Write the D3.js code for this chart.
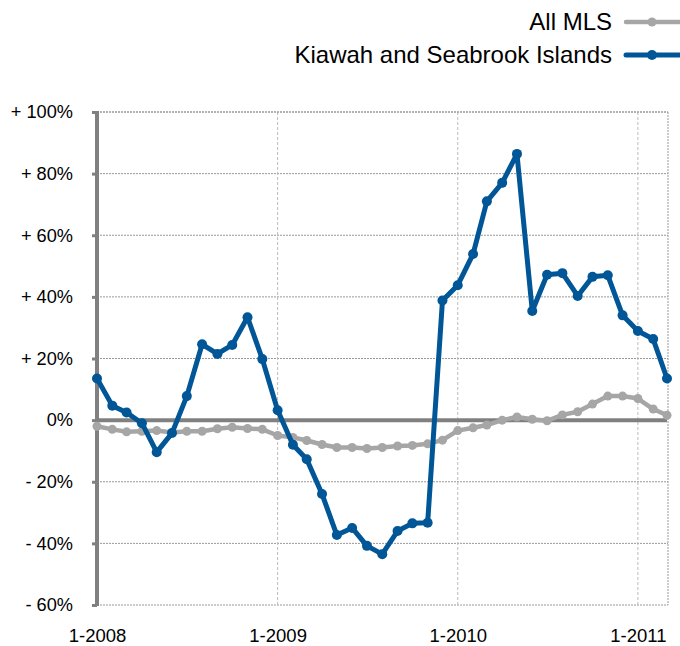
<!DOCTYPE html>
<html>
<head>
<meta charset="utf-8">
<script src="https://cdn.jsdelivr.net/npm/d3@7/dist/d3.min.js"></script>
<style>
  body { margin: 0; background: #fff; }
  svg { display: block; font-family: "Liberation Sans", Arial, Helvetica, sans-serif; }
</style>
</head>
<body>
<svg id="chart" width="680" height="646"></svg>
<script>
// Monthly data, Jan 2008 .. Mar 2011 (percent change)
const months = d3.range(39).map(i => new Date(2008, i, 1));
const allMLS = [-2, -3, -3.8, -3.6, -3.4, -4, -3.6, -3.6, -2.8, -2.3, -2.7, -3, -5, -5.6, -6.6, -7.9, -8.9,
  -8.9, -9.2, -8.9, -8.4, -8.2, -7.7, -6.5, -3.4, -2.5, -1.6, 0, 1, 0.3, -0.2, 1.7, 2.7, 5.2, 7.8, 7.8, 7, 3.6, 1.6];
const kiawah = [13.5, 4.7, 2.5, -1, -10.4, -4.2, 7.8, 24.6, 21.5, 24.4, 33.4, 19.8, 3.2, -8, -12.7, -24, -37.3,
  -35, -40.8, -43.5, -36, -33.5, -33.3, 38.8, 43.8, 53.9, 71, 77, 86.4, 35.4, 47.2, 47.7, 40.3, 46.5, 47, 34, 28.9, 26.3, 13.5];
const yTicks = [100, 80, 60, 40, 20, 0, -20, -40, -60];
const yTickLabels = ["+ 100%", "+ 80%", "+ 60%", "+ 40%", "+ 20%", "0%", "- 20%", "- 40%", "- 60%"];
const xTicks = [new Date(2008, 0, 1), new Date(2009, 0, 1), new Date(2010, 0, 1), new Date(2011, 0, 1)];
const xTickLabels = ["1-2008", "1-2009", "1-2010", "1-2011"];
const seriesNames = ["All MLS", "Kiawah and Seabrook Islands"];
const seriesColors = ["#a6a6a6", "#005696"];

const svg = d3.select("#chart");
const pLeft = 97, pRight = 667, pTop = 112, pBottom = 605;

const x = d3.scaleTime().domain([months[0], months[38]]).range([pLeft, pRight]);
const y = d3.scaleLinear().domain([-60, 100]).range([pBottom, pTop]);

// grid
const grid = svg.append("g");
grid.selectAll("line.h").data(yTicks.filter(d => d !== 0 && d !== 100)).join("line")
  .attr("x1", pLeft).attr("x2", pRight + 1).attr("y1", d => y(d)).attr("y2", d => y(d))
  .attr("stroke", "#999").attr("stroke-width", 1).attr("stroke-dasharray", "2,1");
grid.selectAll("line.v").data(xTicks.slice(1)).join("line")
  .attr("x1", d => x(d)).attr("x2", d => x(d)).attr("y1", pTop).attr("y2", pBottom)
  .attr("stroke", "#bbb").attr("stroke-width", 1).attr("stroke-dasharray", "3,2");
grid.append("line").attr("x1", pRight + 1).attr("x2", pRight + 1).attr("y1", pTop).attr("y2", pBottom)
  .attr("stroke", "#999").attr("stroke-width", 1).attr("stroke-dasharray", "2,1");
grid.append("line").attr("x1", pLeft).attr("x2", pRight + 1).attr("y1", y(100)).attr("y2", y(100))
  .attr("stroke", "#999").attr("stroke-width", 1.5).attr("stroke-dasharray", "2,1");

// y axis
const yAxis = d3.axisLeft(y).tickValues(yTicks).tickSize(5)
  .tickFormat((d, i) => yTickLabels[i]);
const ya = svg.append("g").attr("transform", `translate(${pLeft},0)`).call(yAxis);
ya.select(".domain").attr("stroke", "#808080").attr("stroke-width", 4)
  .attr("d", `M0,${pTop - 1}V${pBottom + 1}`);
ya.selectAll(".tick line").attr("stroke", "#808080").attr("stroke-width", 3);
ya.selectAll(".tick text").attr("x", -24).attr("font-size", 18.2).attr("fill", "#000")
  .attr("font-family", "'Liberation Sans', Arial, sans-serif");

// x axis labels
const xAxis = d3.axisBottom(x).tickValues(xTicks).tickSize(0)
  .tickFormat((d, i) => xTickLabels[i]);
const xa = svg.append("g").attr("transform", `translate(0,${pBottom})`).call(xAxis);
xa.select(".domain").remove();
xa.selectAll(".tick text").attr("dy", 0).attr("y", 37).attr("font-size", 18.5).attr("fill", "#000")
  .attr("font-family", "'Liberation Sans', Arial, sans-serif");

// zero line
svg.append("line").attr("x1", pLeft).attr("x2", pRight).attr("y1", y(0)).attr("y2", y(0))
  .attr("stroke", "#808080").attr("stroke-width", 4);

const line = d3.line().x((d, i) => x(months[i])).y(d => y(d));

// All MLS
svg.append("path").datum(allMLS).attr("d", line).attr("fill", "none")
  .attr("stroke", seriesColors[0]).attr("stroke-width", 4.5).attr("stroke-linejoin", "round");
svg.append("g").selectAll("circle").data(allMLS).join("circle")
  .attr("cx", (d, i) => x(months[i])).attr("cy", d => y(d)).attr("r", 4.5).attr("fill", seriesColors[0]);

// Kiawah
svg.append("path").datum(kiawah).attr("d", line).attr("fill", "none")
  .attr("stroke", seriesColors[1]).attr("stroke-width", 5).attr("stroke-linejoin", "round");
svg.append("g").selectAll("circle").data(kiawah).join("circle")
  .attr("cx", (d, i) => x(months[i])).attr("cy", d => y(d)).attr("r", 5).attr("fill", seriesColors[1]);

// legend
const legend = svg.append("g");
const legY = [22, 55];
seriesNames.forEach((name, i) => {
  legend.append("text").attr("x", 612).attr("y", legY[i]).attr("dy", "0.35em")
    .attr("text-anchor", "end").attr("font-size", 24).attr("fill", "#000").text(name);
  legend.append("line").attr("x1", 626).attr("x2", 680).attr("y1", legY[i]).attr("y2", legY[i])
    .attr("stroke", seriesColors[i]).attr("stroke-width", i ? 5 : 4.5).attr("stroke-linecap", "round");
  legend.append("circle").attr("cx", 652).attr("cy", legY[i]).attr("r", i ? 5 : 4.5).attr("fill", seriesColors[i]);
});
</script>
</body>
</html>
